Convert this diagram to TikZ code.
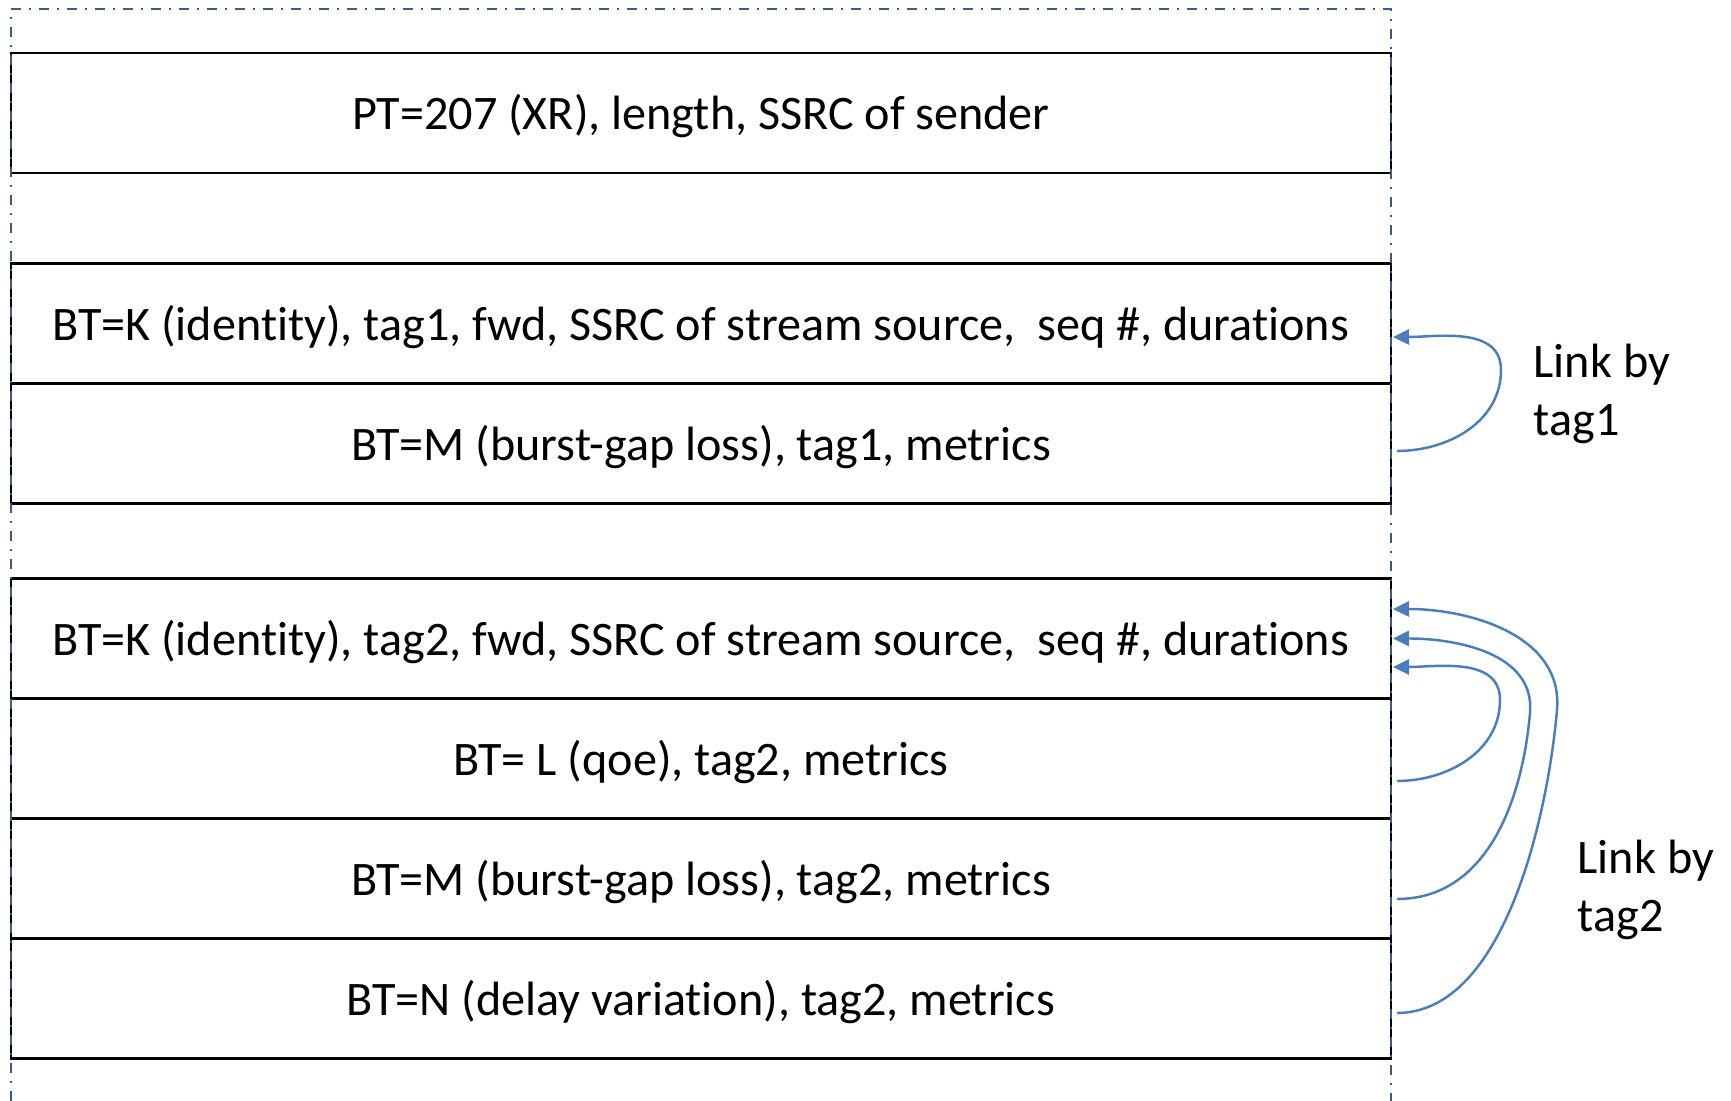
\documentclass[tikz,border=0pt]{standalone}
\usepackage{fontspec}
\setmainfont{Carlito}[Ligatures=NoCommon]
\usetikzlibrary{positioning, arrows.meta}
\definecolor{frameblue}{RGB}{56,93,138}
\definecolor{linkblue}{RGB}{74,126,187}

\begin{document}
\begin{tikzpicture}[font=\fontsize{13.7}{16.5}\selectfont, >={Triangle[length=4.6pt,width=4.4pt]},
  block/.style={draw, line width=0.75pt, minimum width=13.8cm, minimum height=1.2cm,
                text height=0.45cm, text depth=0.11cm, inner sep=0pt, outer sep=0pt},
  link/.style={->, linkblue, line width=0.7pt}]
  \useasboundingbox (0,0) rectangle (17.31,-11.01);
  % XR header
  \node[block] (hdr) at (7.01,-1.13) {PT=207 (XR), length, SSRC of sender};
  % first report group
  \node[block] (id1) at (7.01,-3.235)
    {BT=K (identity), tag1, fwd, SSRC of stream source,\ \ seq \#, durations};
  \node[block, below=0pt of id1] (bg1) {BT=M (burst-gap loss), tag1, metrics};
  % second report group
  \node[block] (id2) at (7.01,-6.385)
    {BT=K (identity), tag2, fwd, SSRC of stream source,\ \ seq \#, durations};
  \node[block, below=0pt of id2] (qoe2) {BT= L (qoe), tag2, metrics};
  \node[block, below=0pt of qoe2] (bg2) {BT=M (burst-gap loss), tag2, metrics};
  \node[block, below=0pt of bg2] (dv2) {BT=N (delay variation), tag2, metrics};
  % dash-dot frame, open at the bottom
  \draw[frameblue, line width=0.6pt, dash pattern=on 0.1cm off 0.08cm on 0.02cm off 0.08cm]
    (0.11,-11.01) -- (0.11,-0.09) -- (13.91,-0.09) -- (13.91,-11.01);
  % links by tag
  \draw[link] ([xshift=0.06cm,yshift=-0.075cm]bg1.east) to[out=0,in=-90] ++(1.04,0.81)
    to[out=90,in=0] ([xshift=0.02cm,yshift=-0.135cm]id1.east);
  \draw[link] ([xshift=0.06cm,yshift=-0.225cm]qoe2.east) to[out=0,in=-90] ++(1.03,0.81)
    to[out=90,in=0] ([xshift=0.02cm,yshift=-0.285cm]id2.east);
  \draw[link] ([xshift=0.06cm,yshift=-0.205cm]bg2.east) to[out=0,in=-95] ++(1.33,1.86)
    to[out=85,in=0] ([xshift=0.02cm]id2.east);
  \draw[link] ([xshift=0.06cm,yshift=-0.145cm]dv2.east) to[out=0,in=-95,looseness=0.8] ++(1.60,3.03)
    to[out=85,in=0] ([xshift=0.02cm,yshift=0.295cm]id2.east);
  \node[anchor=west, align=left, inner sep=0pt] (lbl1) at (15.33,-3.94) {Link by\\tag1};
  \node[anchor=west, align=left, inner sep=0pt] (lbl2) at (15.77,-8.895) {Link by\\tag2};
\end{tikzpicture}
\end{document}
